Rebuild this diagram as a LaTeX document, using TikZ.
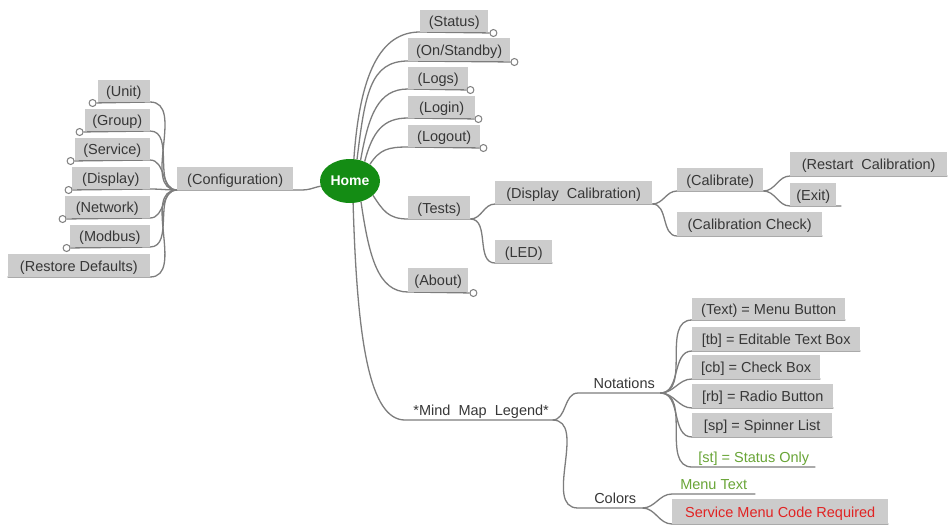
\documentclass[tikz,border=0pt]{standalone}
\usepackage{fontspec}
\setmainfont{Liberation Sans}
\usetikzlibrary{calc,backgrounds,shapes.geometric}
\definecolor{boxgray}{RGB}{204,204,204}
\definecolor{txtgray}{RGB}{55,55,55}
\definecolor{linegray}{RGB}{125,125,125}
\definecolor{homegreen}{RGB}{20,140,20}
\definecolor{legendgreen}{RGB}{105,165,55}
\definecolor{codered}{RGB}{225,35,35}
\begin{document}
\begin{tikzpicture}[x=1pt,y=-1pt,
  lbl/.style={font=\fontsize{14.5}{16}\selectfont,text=txtgray,text height=15pt,text depth=3pt},
  box/.style={lbl,fill=boxgray,inner xsep=3pt,inner ysep=0pt,minimum height=22pt},
  plain/.style={lbl,inner xsep=3pt,inner ysep=0pt,minimum height=20pt},
  conn/.style={draw=linegray,line width=1.3pt},
  knob/.style={circle,draw=linegray,line width=1pt,fill=white,inner sep=0pt,minimum size=7pt},
]
\useasboundingbox (0,0) rectangle (948,531);

% Home
\node[ellipse,fill=homegreen,text=white,font=\fontsize{14}{16}\selectfont\bfseries,minimum width=60pt,minimum height=44pt,inner sep=0pt] (home) at (350,181) {Home};

% left branch
\node[box,anchor=south west,minimum width=116pt,minimum height=23pt] (config) at (177,190) {(Configuration)};
\node[box,anchor=south east,minimum width=52pt] (unit) at (150,102) {(Unit)};
\node[box,anchor=south east,minimum width=65pt] (group) at (150,131) {(Group)};
\node[box,anchor=south east,minimum width=75pt] (service) at (150,160) {(Service)};
\node[box,anchor=south east,minimum width=78pt] (display) at (150,189) {(Display)};
\node[box,anchor=south east,minimum width=85pt] (network) at (150,218) {(Network)};
\node[box,anchor=south east,minimum width=80pt] (modbus) at (150,247) {(Modbus)};
\node[box,anchor=south east,minimum width=142pt,minimum height=23pt] (restore) at (150,277) {(Restore Defaults)};

% upper right
\node[box,anchor=south west,minimum width=68pt] (status) at (420,32) {(Status)};
\node[box,anchor=south west,minimum width=102pt,minimum height=23pt] (onstandby) at (408,61) {(On/Standby)};
\node[box,anchor=south west,minimum width=60pt] (logs) at (408,89) {(Logs)};
\node[box,anchor=south west,minimum width=67pt] (login) at (408,118) {(Login)};
\node[box,anchor=south west,minimum width=72pt] (logout) at (408,147) {(Logout)};
\node[box,anchor=south west,minimum width=62pt,minimum height=23pt] (tests) at (408,219) {(Tests)};
\node[box,anchor=south west,minimum width=60pt,minimum height=24pt] (about) at (408,292) {(About)};
\node[box,anchor=south west,minimum width=157pt,minimum height=23pt] (dispcal) at (495,204) {(Display\ \ Calibration)};
\node[box,anchor=south west,minimum width=57pt,minimum height=23pt] (led) at (495,263) {(LED)};
\node[box,anchor=south west,minimum width=86pt,minimum height=23pt] (calibrate) at (677,191) {(Calibrate)};
\node[box,anchor=south west,minimum width=157pt,minimum height=24pt] (restart) at (790,176) {(Restart\ \ Calibration)};
\node[box,anchor=south west,minimum width=46pt,minimum height=23pt] (exit) at (790,206) {(Exit)};
\node[box,anchor=south west,minimum width=145pt,minimum height=24pt] (calcheck) at (677,236) {(Calibration Check)};

% legend
\node[plain,anchor=south west,minimum width=142pt] (legend) at (410,420) {*Mind\ \ Map\ \ Legend*};
\node[plain,anchor=south west,minimum width=72pt] (notations) at (588,393) {Notations};
\node[plain,anchor=south west,minimum width=54pt] (colors) at (588,508) {Colors};
\node[box,anchor=south west,minimum width=153pt] (n1) at (692,320) {(Text) = Menu Button};
\node[box,anchor=south west,minimum width=168pt,minimum height=24pt] (n2) at (692,351) {[tb] = Editable Text Box};
\node[box,anchor=south west,minimum width=128pt,minimum height=24pt] (n3) at (692,379) {[cb] = Check Box};
\node[box,anchor=south west,minimum width=141pt,minimum height=24pt] (n4) at (692,408) {[rb] = Radio Button};
\node[box,anchor=south west,minimum width=140pt,minimum height=24pt] (n5) at (692,437) {[sp] = Spinner List};
\node[plain,anchor=south west,text=legendgreen,minimum width=123pt] (n6) at (692,467) {[st] = Status Only};
\node[plain,anchor=south west,text=legendgreen,minimum width=83pt] (menutext) at (672,494) {Menu Text};
\node[box,anchor=south west,text=codered,minimum width=216pt,minimum height=25pt] (svc) at (672,524) {Service Menu Code Required};

% knobs
\node[knob] (k-status) at ($(status.south east)+(5,1)$) {};
\node[knob] (k-onst) at ($(onstandby.south east)+(4,1)$) {};
\node[knob] (k-logs) at ($(logs.south east)+(2,1)$) {};
\node[knob] (k-login) at ($(login.south east)+(3,1)$) {};
\node[knob] (k-logout) at ($(logout.south east)+(3,1)$) {};
\node[knob] (k-about) at ($(about.south east)+(5,1)$) {};
\node[knob] (k-unit) at ($(unit.south west)+(-5,1)$) {};
\node[knob] (k-group) at ($(group.south west)+(-5,1)$) {};
\node[knob] (k-service) at ($(service.south west)+(-4,1)$) {};
\node[knob] (k-display) at ($(display.south west)+(-3,1)$) {};
\node[knob] (k-network) at ($(network.south west)+(-2,1)$) {};
\node[knob] (k-modbus) at ($(modbus.south west)+(-3,1)$) {};

\begin{scope}[on background layer]
\fill[white] (0,0) rectangle (948,531);
% home to configuration
\draw[conn] (home.190) .. controls +(-10,2) and +(12,0) .. ($(config.south east)+(6,0)$) -- (config.south west);
% left children
\foreach \c in {unit,group,service,display,network,modbus}{
  \draw[conn] (config.south west) to[out=180,in=0] (\c.south east) -- (k-\c);
}
\draw[conn] (config.south west) to[out=180,in=0] (restore.south east) -- (restore.south west);
% upper right
\draw[conn] (home.80) .. controls +(6,-85) and +(-40,0) .. (status.south west) -- (k-status);
\draw[conn] (home.72) .. controls +(8,-65) and +(-38,0) .. (onstandby.south west) -- (k-onst);
\draw[conn] (home.63) .. controls +(8,-45) and +(-30,0) .. (logs.south west) -- (k-logs);
\draw[conn] (home.53) .. controls +(8,-30) and +(-25,0) .. (login.south west) -- (k-login);
\draw[conn] (home.40) .. controls +(10,-15) and +(-20,0) .. (logout.south west) -- (k-logout);
\draw[conn] (home.-32) .. controls +(10,15) and +(-20,0) .. (tests.south west) -- (tests.south east);
\draw[conn] (home.-62) .. controls +(8,55) and +(-30,0) .. (about.south west) -- (k-about);
\draw[conn] (home.-82) .. controls +(4,140) and +(-35,0) .. ($(legend.south west)+(-5,0)$) -- (legend.south east);
% tests
\draw[conn] (tests.south east) to[out=0,in=180] (dispcal.south west) -- (dispcal.south east);
\draw[conn] (tests.south east) to[out=0,in=180] (led.south west) -- (led.south east);
\draw[conn] (dispcal.south east) to[out=0,in=180] (calibrate.south west) -- (calibrate.south east);
\draw[conn] (dispcal.south east) to[out=0,in=180] (calcheck.south west) -- (calcheck.south east);
\draw[conn] (calibrate.south east) to[out=0,in=180] (restart.south west) -- (restart.south east);
\draw[conn] (calibrate.south east) to[out=0,in=180] (exit.south west) -- ($(exit.south east)+(5,0)$);
% legend
\draw[conn] (legend.south east) to[out=0,in=180] ($(notations.south west)+(-10,0)$) -- (notations.south east);
\draw[conn] (legend.south east) to[out=0,in=180] ($(colors.south west)+(-10,0)$) -- (colors.south east);
\foreach \n in {n1,n2,n3,n4,n5}{
  \draw[conn] (notations.south east) to[out=0,in=180] (\n.south west) -- (\n.south east);
}
\draw[conn] (notations.south east) to[out=0,in=180] (n6.south west) -- (n6.south east);
\draw[conn] (colors.south east) to[out=0,in=180] (menutext.south west) -- (menutext.south east);
\draw[conn] (colors.south east) to[out=0,in=180] (svc.south west) -- (svc.south east);
\end{scope}
\end{tikzpicture}
\end{document}
